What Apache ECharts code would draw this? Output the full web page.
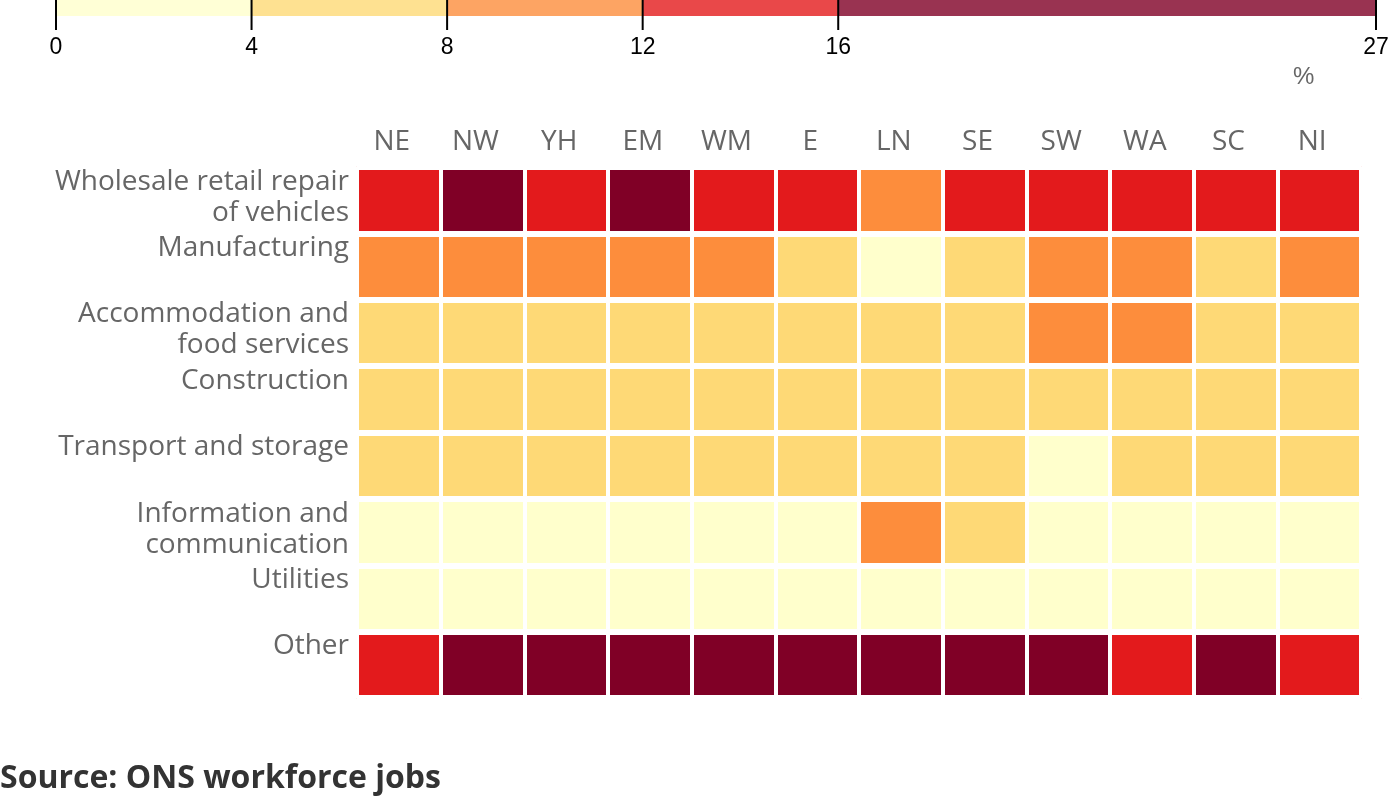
<!DOCTYPE html>
<html><head><meta charset="utf-8">
<style>html,body{margin:0;padding:0;background:#fff}#c{width:1389px;height:797px}</style>
<script src="https://cdn.jsdelivr.net/npm/echarts@6/dist/echarts.min.js"></script>
</head><body><div id="c"></div>
<script>
const regions = ['NE','NW','YH','EM','WM','E','LN','SE','SW','WA','SC','NI'];
const sectors = ['Wholesale retail repair\nof vehicles','Manufacturing','Accommodation and\nfood services','Construction','Transport and storage','Information and\ncommunication','Utilities','Other'];
const wholesale = [15,16.5,15,16.5,15,15,11,14,15,15,15,15];
const manufacturing = [11,10,11,11,11,7,3,7,9,10,7,10];
const accommodation = [7,7,7,6,6,6,7,6,9,9,7,7];
const construction = [6,7,6,7,6,7,4.5,6,7,7,7,7];
const transport = [5,6,6,7,6,6,6,5,3.5,5,5,5];
const information = [2,3,3,2,2,3,9,6,3,2,3,2];
const utilities = [1,1,1,1,1,1,1,1,1,2,2,1];
const other = [15,18,19,18,19,21,25,21,18,15,18,15];
const rows = [wholesale,manufacturing,accommodation,construction,transport,information,utilities,other];
const binEdges = [0,4,8,12,16,27];
const binColors = ['#ffffcc','#fed976','#fd8d3c','#e31a1c','#800026'];

const cells = [];
rows.forEach((r,y)=>r.forEach((v,x)=>cells.push([x,y,v])));
const pieces = binColors.map((color,i)=>({min:binEdges[i],max:binEdges[i+1],color}));
const legendBands = binColors.map((color,i)=>[binEdges[i],binEdges[i+1],color]);
const sans = '"Open Sans"';

const chart = echarts.init(document.getElementById('c'),null,{renderer:'canvas'});
chart.setOption({
  animation:false,
  backgroundColor:'#fff',
  title:{text:'Source: ONS workforce jobs',left:0,top:763,padding:0,
    textStyle:{fontFamily:sans,fontSize:32,fontWeight:'bold',color:'#333'}},
  graphic:[{type:'text',left:1293,top:65,style:{text:'%',fontFamily:'Liberation Sans',fontSize:24,fill:'#666'}}],
  grid:[
    {left:357,top:167,width:1004,height:531,outerBoundsMode:'none'},
    {left:56,top:0,width:1320,height:30,outerBoundsMode:'none'}
  ],
  xAxis:[
    {type:'category',gridIndex:0,data:regions,position:'top',z:5,
      axisLine:{show:false},axisTick:{show:false},
      axisLabel:{interval:0,margin:11,fontFamily:sans,fontSize:28,color:'#666',padding:[0,14,0,0]},
      splitLine:{show:true,interval:0,lineStyle:{color:'#fff',width:4}},splitArea:{show:false}},
    {type:'value',gridIndex:1,min:0,max:27,position:'bottom',z:5,
      axisLine:{show:false},axisTick:{show:false},
      axisLabel:{customValues:binEdges,margin:6,fontFamily:'Liberation Sans',fontSize:23,color:'#000',showMinLabel:true,showMaxLabel:true,hideOverlap:false},
      splitLine:{show:false}}
  ],
  yAxis:[
    {type:'category',gridIndex:0,data:sectors,inverse:true,z:5,
      axisLine:{show:false},axisTick:{show:false},
      axisLabel:{interval:0,margin:8,align:'right',
        rich:{t:{fontFamily:sans,fontSize:28,lineHeight:31,color:'#666',align:'right'},g:{fontSize:6,lineHeight:6}},
        formatter:s=>{
          const lines=s.split('\n');
          if(lines.length<2) lines.push(' ');
          return lines.map(l=>'{t|'+l+'}').join('\n')+'\n{g| }';
        }},
      splitLine:{show:true,interval:0,lineStyle:{color:'#fff',width:6}},splitArea:{show:false}},
    {type:'value',gridIndex:1,min:0,max:30,inverse:true,show:false}
  ],
  visualMap:{show:false,type:'piecewise',seriesIndex:0,dimension:2,pieces},
  series:[
    {type:'heatmap',xAxisIndex:0,yAxisIndex:0,data:cells,z:2,label:{show:false},emphasis:{disabled:true}},
    {type:'custom',xAxisIndex:1,yAxisIndex:1,z:2,silent:true,data:legendBands,encode:{x:[0,1]},clip:false,
      renderItem:(p,api)=>{
        const a=api.coord([api.value(0),0]), b=api.coord([api.value(1),16]);
        return {type:'rect',shape:{x:a[0],y:a[1],width:b[0]-a[0],height:b[1]-a[1]},
          style:{fill:legendBands[p.dataIndex][2],opacity:0.8}};
      }},
    {type:'custom',xAxisIndex:1,yAxisIndex:1,z:3,silent:true,data:binEdges.map(v=>[v]),encode:{x:0},clip:false,
      renderItem:(p,api)=>{
        const a=api.coord([api.value(0),0]), b=api.coord([api.value(0),30]);
        return {type:'line',shape:{x1:a[0],y1:a[1],x2:b[0],y2:b[1]},style:{stroke:'#000',lineWidth:2}};
      }}
  ]
});
</script></body></html>
